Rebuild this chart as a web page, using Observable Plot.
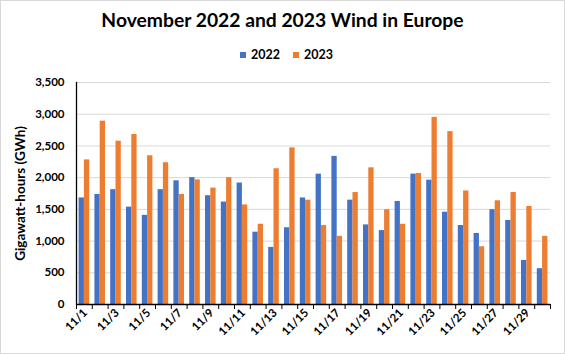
<!DOCTYPE html>
<html>
<head>
<meta charset="utf-8">
<script src="https://cdn.jsdelivr.net/npm/d3@7"></script>
<script src="https://cdn.jsdelivr.net/npm/@observablehq/plot@0.6"></script>
<style>
  body { margin: 0; background: #fff; }
  #wrap { position: relative; width: 565px; height: 354px; background: #fff; font-family: Lato, "Liberation Sans", sans-serif; overflow: hidden; }
  #border { position: absolute; left: 0; top: 0; width: 565px; height: 354px; box-sizing: border-box; border: 1px solid #d9d9d9; pointer-events: none; }
  #title { position: absolute; top: 8px; left: 0; width: 565px; text-align: center; font-weight: bold; font-size: 19.3px; color: #000; }
  #legend { position: absolute; top: 47px; left: 4px; width: 565px; display: flex; justify-content: center; gap: 13px; font-weight: bold; font-size: 12.5px; color: #000; }
  .item { display: flex; align-items: center; gap: 5px; }
  .sw { width: 6px; height: 6px; display: inline-block; }
  #chart { position: absolute; left: 0; top: 70px; }
</style>
</head>
<body>
<div id="wrap">
  <div id="title"></div>
  <div id="legend"></div>
  <div id="chart"></div>
  <div id="border"></div>
</div>
<script>
const title = "November 2022 and 2023 Wind in Europe";
const yLabel = "Gigawatt-hours (GWh)";
const series = ["2022", "2023"];
const colors = ["#4472C4", "#ED7D31"];
const days = d3.range(1, 31).map(d => `11/${d}`);
const v2022 = [1680, 1735, 1810, 1535, 1405, 1810, 1950, 2000, 1715, 1615, 1915, 1140, 900, 1210, 1680, 2055, 2335, 1645, 1255, 1165, 1625, 2055, 1960, 1455, 1245, 1120, 1495, 1325, 695, 565];
const v2023 = [2280, 2890, 2575, 2680, 2345, 2235, 1735, 1965, 1835, 2000, 1570, 1265, 2140, 2470, 1645, 1245, 1075, 1765, 2155, 1495, 1265, 2065, 2950, 2725, 1790, 910, 1635, 1765, 1545, 1075];
const yTicks = d3.range(0, 3501, 500);
const xLabelDays = days.filter((d, i) => i % 2 === 0);

document.getElementById("title").textContent = title;
const legend = document.getElementById("legend");
series.forEach((s, i) => {
  const it = document.createElement("span");
  it.className = "item";
  it.innerHTML = `<span class="sw" style="background:${colors[i]}"></span><span>${s}</span>`;
  legend.appendChild(it);
});

const data = [];
days.forEach((d, i) => {
  data.push({day: d, year: "2022", value: v2022[i]});
  data.push({day: d, year: "2023", value: v2023[i]});
});

const W = 565, H = 284, mL = 76, mR = 15, mT = 12, mB = 50;
const pad = 0.33;
const step = (W - mL - mR) / days.length;
const bw = step * (1 - pad);

const chart = Plot.plot({
  width: W,
  height: H,
  marginLeft: mL,
  marginRight: mR,
  marginTop: mT,
  marginBottom: mB,
  style: {fontFamily: "Lato, 'Liberation Sans', sans-serif", fontWeight: "bold", fontSize: "11.5px", color: "#000", background: "transparent"},
  x: {type: "band", domain: days, paddingInner: pad, paddingOuter: pad / 2, round: false, axis: null},
  y: {domain: [0, 3500], axis: null},
  color: {domain: series, range: colors},
  marks: [
    Plot.ruleY(yTicks.filter(d => d > 0), {stroke: "#d9d9d9", strokeWidth: 1}),
    Plot.barY(data.filter(d => d.year === "2022"), {x: "day", y: "value", fill: "year", insetRight: bw / 2}),
    Plot.barY(data.filter(d => d.year === "2023"), {x: "day", y: "value", fill: "year", insetLeft: bw / 2}),
    Plot.axisY({ticks: yTicks, tickSize: 0, tickPadding: 12, tickFormat: d3.format(","), label: null, fontSize: 11.5, fontWeight: "bold"}),
    Plot.axisX({ticks: days, tickSize: 5, tickFormat: () => "", dx: -step / 2, stroke: "#000", label: null}),
    Plot.axisX({ticks: [days[days.length - 1]], tickSize: 5, tickFormat: () => "", dx: step / 2, stroke: "#000", label: null}),
    Plot.axisX({ticks: xLabelDays, tickSize: 0, tickPadding: 6.5, dx: 1, tickRotate: -45, label: null, fontSize: 11.5, fontWeight: "bold"}),
    Plot.ruleY([0], {stroke: "#000", strokeWidth: 1.3}),
    Plot.frame({anchor: "left", stroke: "#000", strokeWidth: 1.3}),
    Plot.text([yLabel], {frameAnchor: "left", textAnchor: "middle", dx: -56, rotate: -90, fontSize: 13.5, fontWeight: "bold", fill: "#000"})
  ]
});
document.getElementById("chart").appendChild(chart);
</script>
</body>
</html>
